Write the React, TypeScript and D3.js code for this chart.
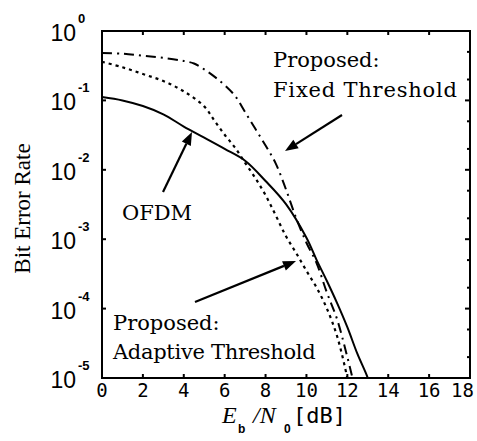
import React from "react";
import * as d3 from "d3";

// Eb/N0 sample points (dB) and bit error rates for each scheme
const ofdmSnr = [0, 1, 2, 3, 4, 5, 6, 7, 8, 9, 10, 10.5, 11, 11.5, 12, 12.5, 13, 13.3];
const ofdmBer = [0.112, 0.1, 0.083, 0.063, 0.042, 0.029, 0.02, 0.0135, 0.0069, 0.0032, 0.00105, 0.0005, 0.00025, 0.00012, 5.4e-5, 2.2e-5, 1e-5, 5e-6];

const fixedSnr = [0, 1, 2, 3, 4, 4.5, 5, 5.5, 6, 6.5, 7, 7.5, 8, 8.5, 9, 9.5, 10, 10.5, 11, 11.5, 12, 12.25, 12.4];
const fixedBer = [0.48, 0.47, 0.44, 0.41, 0.37, 0.34, 0.28, 0.22, 0.166, 0.117, 0.068, 0.039, 0.0224, 0.0123, 0.0052, 0.002, 0.00089, 0.00045, 0.00017, 7e-5, 2e-5, 1e-5, 6e-6];

const adaptiveSnr = [0, 1, 2, 3, 4, 5, 5.5, 6, 6.5, 7, 7.5, 8, 8.5, 9, 9.5, 10, 10.5, 11, 11.5, 12, 12.2];
const adaptiveBer = [0.36, 0.3, 0.24, 0.19, 0.135, 0.082, 0.051, 0.032, 0.021, 0.0126, 0.0076, 0.0043, 0.0022, 0.0011, 0.00063, 0.00035, 0.0002, 0.0001, 4e-5, 1e-5, 5e-6];

const xTicks = [0, 2, 4, 6, 8, 10, 12, 14, 16, 18];
const yDecades = [1, 1e-1, 1e-2, 1e-3, 1e-4, 1e-5];
const yExponents = ["0", "-1", "-2", "-3", "-4", "-5"];
const yMinor = [0.5, 0.2, 0.05, 0.02, 0.005, 0.002, 5e-4, 2e-4, 5e-5, 2e-5];

const W = 477;
const H = 441;
const left = 102, right = 470, top = 31, bottom = 378;

const x = d3.scaleLinear().domain([0, 18]).range([left, right]);
const y = d3.scaleLog().domain([1e-5, 1]).range([bottom, top]);

const line = d3
  .line<[number, number]>()
  .x((d) => x(d[0]))
  .y((d) => y(d[1]))
  .curve(d3.curveCatmullRom.alpha(0.5));

const zip = (a: number[], b: number[]) => a.map((v, i) => [v, b[i]] as [number, number]);

const serif = "'DejaVu Serif', serif";
const sans = "'Liberation Sans', Arial, sans-serif";
const mono = "'DejaVu Sans Mono', monospace";

function Arrow({ x1, y1, x2, y2 }: { x1: number; y1: number; x2: number; y2: number }) {
  const ang = Math.atan2(y2 - y1, x2 - x1);
  const len = 13;
  const half = 5;
  const bx = x2 - len * Math.cos(ang);
  const by = y2 - len * Math.sin(ang);
  const px = -Math.sin(ang) * half;
  const py = Math.cos(ang) * half;
  return (
    <g>
      <line x1={x1} y1={y1} x2={bx} y2={by} stroke="#000" strokeWidth={2.2} />
      <polygon points={`${x2},${y2} ${bx + px},${by + py} ${bx - px},${by - py}`} fill="#000" />
    </g>
  );
}

export default function App() {
  return (
    <div style={{ position: "absolute", left: 0, top: 0 }}>
      <svg width={W} height={H} style={{ display: "block", background: "#fff" }}>
        <defs>
          <clipPath id="plot">
            <rect x={left} y={top} width={right - left} height={bottom - top} />
          </clipPath>
        </defs>

        {/* curves */}
        <g clipPath="url(#plot)" fill="none" stroke="#000">
          <path d={line(zip(ofdmSnr, ofdmBer)) || ""} strokeWidth={2} />
          <path d={line(zip(fixedSnr, fixedBer)) || ""} strokeWidth={2} strokeDasharray="10,5,2,5" />
          <path d={line(zip(adaptiveSnr, adaptiveBer)) || ""} strokeWidth={2.2} strokeDasharray="3,4" />
        </g>

        {/* frame */}
        <rect x={left} y={top} width={right - left} height={bottom - top} fill="none" stroke="#000" strokeWidth={2} />

        {/* x ticks, bottom and top */}
        {xTicks.slice(1, -1).map((t) => (
          <g key={"xt" + t}>
            <line x1={x(t)} x2={x(t)} y1={bottom} y2={bottom - 4} stroke="#000" strokeWidth={2} />
            <line x1={x(t)} x2={x(t)} y1={top} y2={top + 4} stroke="#000" strokeWidth={2} />
          </g>
        ))}
        {xTicks.map((t, i) => {
          const last = i === xTicks.length - 1;
          return (
            <text
              key={"xl" + t}
              x={last ? 474 : x(t)}
              y={397}
              textAnchor={last ? "end" : "middle"}
              fontFamily={mono}
              fontSize={19}
            >
              {t}
            </text>
          );
        })}

        {/* y ticks */}
        {yDecades.slice(1, -1).map((t) => (
          <g key={"yt" + t}>
            <line x1={left} x2={left + 4} y1={y(t)} y2={y(t)} stroke="#000" strokeWidth={2} />
            <line x1={right} x2={right - 5} y1={y(t)} y2={y(t)} stroke="#000" strokeWidth={2} />
          </g>
        ))}
        {yMinor.map((t) => (
          <line key={"ym" + t} x1={right} x2={right - 3} y1={y(t)} y2={y(t)} stroke="#000" strokeWidth={2} />
        ))}
        {yDecades.map((t, i) => (
          <g key={"yl" + t}>
            <text x={76} y={y(t) + 10} textAnchor="end" fontFamily={sans} fontSize={23}>
              10
            </text>
            <text x={78} y={y(t) - 8} fontFamily={sans} fontSize={13} fontWeight="bold">
              {yExponents[i]}
            </text>
          </g>
        ))}

        {/* axis titles */}
        <text
          transform={`translate(30,${(top + bottom) / 2 + 4}) rotate(-90)`}
          textAnchor="middle"
          fontFamily="'Liberation Serif', serif"
          fontSize={23}
        >
          Bit Error Rate
        </text>
        <text y={423} fontSize={24}>
          <tspan x={222} fontFamily="'Liberation Serif', serif" fontStyle="italic">E</tspan>
          <tspan x={238} dy={10} fontFamily={sans} fontSize={12} fontWeight="bold">b</tspan>
          <tspan x={253} dy={-10} fontFamily="'Liberation Serif', serif" fontStyle="italic">/N</tspan>
          <tspan x={284} dy={10} fontFamily={sans} fontSize={12} fontWeight="bold">0</tspan>
          <tspan x={293} dy={-10} fontFamily={mono} fontSize={22}>[dB]</tspan>
        </text>

        {/* annotations */}
        <g fontFamily={serif} fontSize={21} fill="#000">
          <text x={273} y={67}>Proposed:</text>
          <text x={273} y={97} letterSpacing={0.8}>Fixed Threshold</text>
          <text x={122} y={220}>OFDM</text>
          <text x={113} y={330}>Proposed:</text>
          <text x={113} y={359} letterSpacing={-0.3}>Adaptive Threshold</text>
        </g>
        <Arrow x1={342} y1={115} x2={285} y2={151} />
        <Arrow x1={163} y1={192} x2={192} y2={132} />
        <Arrow x1={195} y1={302} x2={296} y2={261} />
      </svg>
    </div>
  );
}
